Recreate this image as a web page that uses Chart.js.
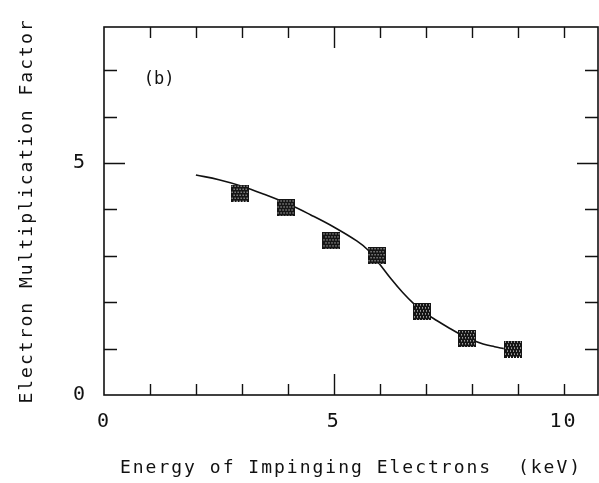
<!DOCTYPE html>
<html>
<head>
<meta charset="utf-8">
<script src="https://cdn.jsdelivr.net/npm/chart.js@4/dist/chart.umd.min.js"></script>
<style>
  html, body { margin: 0; padding: 0; background: #fff; }
  canvas { display: block; }
</style>
</head>
<body>
<canvas id="chart" width="599" height="483"></canvas>
<script>
// Dati misurati (energia in keV, fattore di moltiplicazione)
const energyPoints = [2.95, 3.95, 4.95, 5.93, 6.92, 7.9, 8.9];
const factorPoints = [4.35, 4.03, 3.32, 3.0, 1.79, 1.21, 0.99];

// Curva di fit
const curveEnergy = [2.0, 2.5, 3.0, 3.5, 4.0, 4.5, 5.0, 5.5, 5.75, 6.0, 6.25, 6.5, 6.75, 7.0, 7.25, 7.5, 7.75, 8.0, 8.25, 8.5, 8.7];
const curveFactor = [4.74, 4.64, 4.5, 4.32, 4.12, 3.88, 3.62, 3.32, 3.12, 2.82, 2.5, 2.21, 1.96, 1.76, 1.6, 1.45, 1.31, 1.19, 1.1, 1.04, 1.0];

// Etichette degli assi
const xTickLabels = [0, 5, 10];
const yTickLabels = [0, 5];

const FONT = '"DejaVu Sans Mono", monospace';
const INK = '#111111';

// Marcatore quadrato retinato
function makeMarker() {
    const c = document.createElement('canvas');
    c.width = 18;
    c.height = 17;
    const g = c.getContext('2d');
    g.fillStyle = '#151515';
    g.fillRect(0, 0, 18, 17);
    g.fillStyle = '#ffffff';
    for (let y = 1; y < 17; y += 3) {
        const off = (Math.floor(y / 3) % 2) ? 2 : 0;
        for (let x = 1 + off; x < 18; x += 3) {
            g.fillRect(x, y, 1, 1);
        }
    }
    return c;
}

// Spaziatura lettere come il font del plotter
const spacingPlugin = {
    id: 'spacing',
    beforeUpdate(chart) { chart.ctx.letterSpacing = '2px'; },
    beforeDraw(chart) { chart.ctx.letterSpacing = '2px'; }
};

// Cornice con tacche interne e etichetta (b)
const framePlugin = {
    id: 'frame',
    afterDatasetsDraw(chart) {
        const { ctx, chartArea: a, scales } = chart;
        const xs = scales.x, ys = scales.y;
        ctx.save();
        ctx.strokeStyle = INK;
        ctx.lineWidth = 1.6;
        ctx.strokeRect(a.left, a.top, a.right - a.left, a.bottom - a.top);
        ctx.lineWidth = 1.4;
        ctx.beginPath();
        for (let v = 1; v <= xs.max; v++) {
            const px = Math.round(xs.getPixelForValue(v)) + 0.5;
            const len = v === 5 ? 21 : 11;
            ctx.moveTo(px, a.bottom); ctx.lineTo(px, a.bottom - len);
            ctx.moveTo(px, a.top); ctx.lineTo(px, a.top + len);
        }
        for (let v = 1; v <= ys.max; v++) {
            const py = Math.round(ys.getPixelForValue(v)) + 0.5;
            const len = v === 5 ? 21 : 13;
            ctx.moveTo(a.left, py); ctx.lineTo(a.left + len, py);
            ctx.moveTo(a.right, py); ctx.lineTo(a.right - len, py);
        }
        ctx.stroke();
        ctx.letterSpacing = '0px';
        ctx.fillStyle = INK;
        ctx.font = '17px ' + FONT;
        ctx.textAlign = 'center';
        ctx.textBaseline = 'middle';
        ctx.fillText('(b)', xs.getPixelForValue(1.2), ys.getPixelForValue(6.8));
        ctx.restore();
    }
};

const ctx = document.getElementById('chart').getContext('2d');

window.energyChart = new Chart(ctx, {
    type: 'scatter',
    data: {
        datasets: [
            {
                label: 'Misure',
                data: energyPoints.map((x, i) => ({ x: x, y: factorPoints[i] })),
                pointStyle: makeMarker(),
                pointRadius: 9,
                showLine: false
            },
            {
                label: 'Fit',
                data: curveEnergy.map((x, i) => ({ x: x, y: curveFactor[i] })),
                showLine: true,
                borderColor: INK,
                borderWidth: 1.6,
                pointRadius: 0,
                tension: 0.4,
                fill: false
            }
        ]
    },
    options: {
        responsive: false,
        animation: false,
        layout: { autoPadding: false, padding: { top: 27, right: 1, left: 0, bottom: 0 } },
        plugins: {
            legend: { display: false },
            tooltip: { enabled: false }
        },
        scales: {
            x: {
                type: 'linear',
                min: 0,
                max: 10.75,
                grid: { display: false, drawTicks: false },
                border: { display: false },
                afterBuildTicks: s => { s.ticks = xTickLabels.map(v => ({ value: v })); },
                afterFit: s => { s.height = 88; s.paddingLeft = 0; s.paddingRight = 0; },
                ticks: {
                    color: INK,
                    padding: 15,
                    maxRotation: 0,
                    font: { family: FONT, size: 20 }
                },
                title: {
                    display: true,
                    text: 'Energy of Impinging Electrons  (keV)',
                    color: INK,
                    padding: { top: 0, bottom: 4 },
                    font: { family: FONT, size: 18 }
                }
            },
            y: {
                type: 'linear',
                min: 0,
                max: 7.93,
                grid: { display: false, drawTicks: false },
                border: { display: false },
                afterBuildTicks: s => { s.ticks = yTickLabels.map(v => ({ value: v })); },
                afterFit: s => { s.width = 104; s.paddingTop = 0; s.paddingBottom = 0; },
                ticks: {
                    color: INK,
                    padding: 17,
                    font: { family: FONT, size: 20 }
                },
                title: {
                    display: true,
                    text: 'Electron Multiplication Factor',
                    color: INK,
                    padding: { top: 17, bottom: 0 },
                    font: { family: FONT, size: 18 }
                }
            }
        }
    },
    plugins: [spacingPlugin, framePlugin]
});
</script>
</body>
</html>
